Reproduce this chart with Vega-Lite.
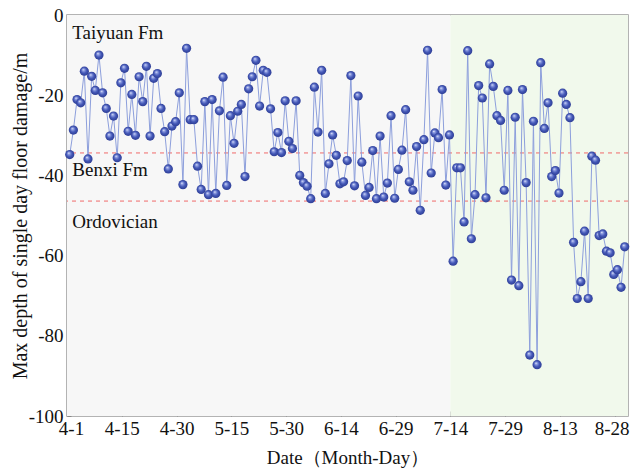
{
  "$schema": "https://vega.github.io/schema/vega-lite/v6.json",
  "width": 561,
  "height": 401,
  "autosize": "none",
  "padding": {"left": 67, "top": 15, "right": 2, "bottom": 56},
  "background": "white",
  "config": {
    "font": "Liberation Serif",
    "view": {"stroke": "#9a9a9a", "strokeWidth": 1.5},
    "axis": {"domain": false, "grid": false, "labelFont": "Liberation Serif", "titleFont": "Liberation Serif", "labelColor": "#111", "titleColor": "#111", "tickColor": "#888"}
  },
  "datasets": {
    "series": [
      {"day":0,"depth":-34.8},{"day":1,"depth":-28.7},{"day":2,"depth":-21.1},{"day":3,"depth":-21.9},{"day":4,"depth":-14.0},
      {"day":5,"depth":-35.9},{"day":6,"depth":-15.3},{"day":7,"depth":-18.8},{"day":8,"depth":-10.0},{"day":9,"depth":-19.4},
      {"day":10,"depth":-23.3},{"day":11,"depth":-30.2},{"day":12,"depth":-25.2},{"day":13,"depth":-35.6},{"day":14,"depth":-16.9},
      {"day":15,"depth":-13.3},{"day":16,"depth":-29.0},{"day":17,"depth":-19.8},{"day":18,"depth":-30.0},{"day":19,"depth":-15.4},
      {"day":20,"depth":-21.6},{"day":21,"depth":-12.8},{"day":22,"depth":-30.2},{"day":23,"depth":-15.8},{"day":24,"depth":-14.6},
      {"day":25,"depth":-23.3},{"day":26,"depth":-29.1},{"day":27,"depth":-38.4},{"day":28,"depth":-27.7},{"day":29,"depth":-26.6},
      {"day":30,"depth":-19.4},{"day":31,"depth":-42.3},{"day":32,"depth":-8.3},{"day":33,"depth":-26.1},{"day":34,"depth":-26.1},
      {"day":35,"depth":-37.7},{"day":36,"depth":-43.5},{"day":37,"depth":-21.6},{"day":38,"depth":-44.8},{"day":39,"depth":-21.1},
      {"day":40,"depth":-44.5},{"day":41,"depth":-23.9},{"day":42,"depth":-15.5},{"day":43,"depth":-42.5},{"day":44,"depth":-25.1},
      {"day":45,"depth":-32.0},{"day":46,"depth":-24.0},{"day":47,"depth":-22.3},{"day":48,"depth":-40.3},{"day":49,"depth":-18.4},
      {"day":50,"depth":-15.4},{"day":51,"depth":-11.3},{"day":52,"depth":-22.7},{"day":53,"depth":-13.8},{"day":54,"depth":-14.3},
      {"day":55,"depth":-23.4},{"day":56,"depth":-34.1},{"day":57,"depth":-29.3},{"day":58,"depth":-34.3},{"day":59,"depth":-21.4},
      {"day":60,"depth":-31.5},{"day":61,"depth":-33.3},{"day":62,"depth":-21.4},{"day":63,"depth":-40.0},{"day":64,"depth":-41.8},
      {"day":65,"depth":-42.7},{"day":66,"depth":-45.8},{"day":67,"depth":-18.0},{"day":68,"depth":-29.2},{"day":69,"depth":-13.8},
      {"day":70,"depth":-44.5},{"day":71,"depth":-37.1},{"day":72,"depth":-29.9},{"day":73,"depth":-35.0},{"day":74,"depth":-42.1},
      {"day":75,"depth":-41.6},{"day":76,"depth":-36.3},{"day":77,"depth":-15.1},{"day":78,"depth":-42.6},{"day":79,"depth":-20.2},
      {"day":80,"depth":-36.7},{"day":81,"depth":-45.0},{"day":82,"depth":-43.0},{"day":83,"depth":-33.8},{"day":84,"depth":-45.8},
      {"day":85,"depth":-30.2},{"day":86,"depth":-45.4},{"day":87,"depth":-41.9},{"day":88,"depth":-25.1},{"day":89,"depth":-45.7},
      {"day":90,"depth":-38.5},{"day":91,"depth":-33.7},{"day":92,"depth":-23.6},{"day":93,"depth":-41.6},{"day":94,"depth":-43.7},
      {"day":95,"depth":-32.8},{"day":96,"depth":-48.7},{"day":97,"depth":-31.1},{"day":98,"depth":-8.8},{"day":99,"depth":-39.4},
      {"day":100,"depth":-29.4},{"day":101,"depth":-30.6},{"day":102,"depth":-18.6},{"day":103,"depth":-42.4},{"day":104,"depth":-29.9},
      {"day":105,"depth":-61.4},{"day":106,"depth":-38.1},{"day":107,"depth":-38.1},{"day":108,"depth":-51.6},{"day":109,"depth":-8.9},
      {"day":110,"depth":-55.8},{"day":111,"depth":-44.8},{"day":112,"depth":-17.6},{"day":113,"depth":-20.7},{"day":114,"depth":-45.6},
      {"day":115,"depth":-12.2},{"day":116,"depth":-17.8},{"day":117,"depth":-25.1},{"day":118,"depth":-26.3},{"day":119,"depth":-43.7},
      {"day":120,"depth":-18.8},{"day":121,"depth":-66.1},{"day":122,"depth":-25.5},{"day":123,"depth":-67.5},{"day":124,"depth":-18.6},
      {"day":125,"depth":-41.8},{"day":126,"depth":-84.8},{"day":127,"depth":-26.5},{"day":128,"depth":-87.2},{"day":129,"depth":-11.9},
      {"day":130,"depth":-28.3},{"day":131,"depth":-21.9},{"day":132,"depth":-40.3},{"day":133,"depth":-38.8},{"day":134,"depth":-44.4},
      {"day":135,"depth":-19.5},{"day":136,"depth":-22.3},{"day":137,"depth":-25.6},{"day":138,"depth":-56.7},{"day":139,"depth":-70.7},
      {"day":140,"depth":-66.5},{"day":141,"depth":-53.9},{"day":142,"depth":-70.7},{"day":143,"depth":-35.2},{"day":144,"depth":-36.2},
      {"day":145,"depth":-55.0},{"day":146,"depth":-54.6},{"day":147,"depth":-58.9},{"day":148,"depth":-59.3},{"day":149,"depth":-64.7},
      {"day":150,"depth":-63.5},{"day":151,"depth":-67.9},{"day":152,"depth":-57.8}
    ],
    "zones": [
      {"start": -0.75, "end": 104.25, "zone": "before"},
      {"start": 104.25, "end": 152.9, "zone": "after"}
    ],
    "bounds": [
      {"depth": -34.4},
      {"depth": -46.4}
    ],
    "labels": [
      {"day": 0.7, "depth": -4.6, "text": "Taiyuan Fm"},
      {"day": 0.7, "depth": -38.7, "text": "Benxi Fm"},
      {"day": 0.7, "depth": -51.5, "text": "Ordovician"}
    ]
  },
  "layer": [
    {
      "data": {"name": "zones"},
      "mark": {"type": "rect"},
      "encoding": {
        "x": {"field": "start", "type": "quantitative", "scale": {"domain": [-0.75, 152.9], "nice": false, "zero": false},
          "axis": {"title": "Date（Month-Day）", "titleFontSize": 19, "titleFontWeight": "normal", "titlePadding": 10,
            "values": [-0.75, 14.25, 29.25, 44.25, 59.25, 74.25, 89.25, 104.25, 119.25, 134.25, 149.25],
            "labelExpr": "['4-1','4-15','4-30','5-15','5-30','6-14','6-29','7-14','7-29','8-13','8-28'][round((datum.value + 0.75) / 15)]",
            "labelOffset": {"condition": [{"test": "datum.value < 0", "value": 4}, {"test": "datum.value > 140", "value": -3}], "value": 0},
            "labelFontSize": 19, "tickSize": -5, "labelPadding": 8, "labelFlush": false, "labelOverlap": false}},
        "x2": {"field": "end"},
        "y": {"datum": 0, "type": "quantitative"},
        "y2": {"datum": -100},
        "color": {"field": "zone", "type": "nominal", "scale": {"domain": ["before", "after"], "range": ["#f7f7f7", "#f1f9ec"]}, "legend": null}
      }
    },
    {
      "data": {"name": "bounds"},
      "mark": {"type": "rule", "color": "#f06a6a", "strokeDash": [4, 4], "strokeWidth": 1},
      "encoding": {"y": {"field": "depth", "type": "quantitative"}}
    },
    {
      "data": {"name": "series"},
      "mark": {"type": "line", "color": "#8d9fdc", "strokeWidth": 1},
      "encoding": {
        "x": {"field": "day", "type": "quantitative"},
        "y": {"field": "depth", "type": "quantitative", "scale": {"domain": [-100, 0], "nice": false},
          "axis": {"title": "Max depth of single day floor damage/m", "titleFontSize": 20, "titleFontWeight": "normal", "titlePadding": -2,
            "values": [-100, -90, -80, -70, -60, -50, -40, -30, -20, -10, 0],
            "labelExpr": "datum.value % 20 == 0 ? '' + datum.value : ''",
            "labelFontSize": 19, "tickSize": -4, "labelPadding": 8, "labelFlush": false, "labelOverlap": false}}
      }
    },
    {
      "data": {"name": "series"},
      "mark": {"type": "point", "filled": true, "size": 85, "opacity": 1, "strokeWidth": 0,
        "fill": {"gradient": "radial", "x1": 0.38, "y1": 0.32, "r1": 0, "x2": 0.5, "y2": 0.5, "r2": 0.55,
          "stops": [{"offset": 0, "color": "#ffffff"}, {"offset": 0.18, "color": "#9aa8e6"}, {"offset": 0.55, "color": "#4458b8"}, {"offset": 1, "color": "#2b3a8f"}]}},
      "encoding": {
        "x": {"field": "day", "type": "quantitative"},
        "y": {"field": "depth", "type": "quantitative"}
      }
    },
    {
      "data": {"name": "labels"},
      "mark": {"type": "text", "align": "left", "baseline": "middle", "fontSize": 19, "font": "Liberation Serif", "color": "#111"},
      "encoding": {
        "x": {"field": "day", "type": "quantitative"},
        "y": {"field": "depth", "type": "quantitative"},
        "text": {"field": "text"}
      }
    }
  ]
}
